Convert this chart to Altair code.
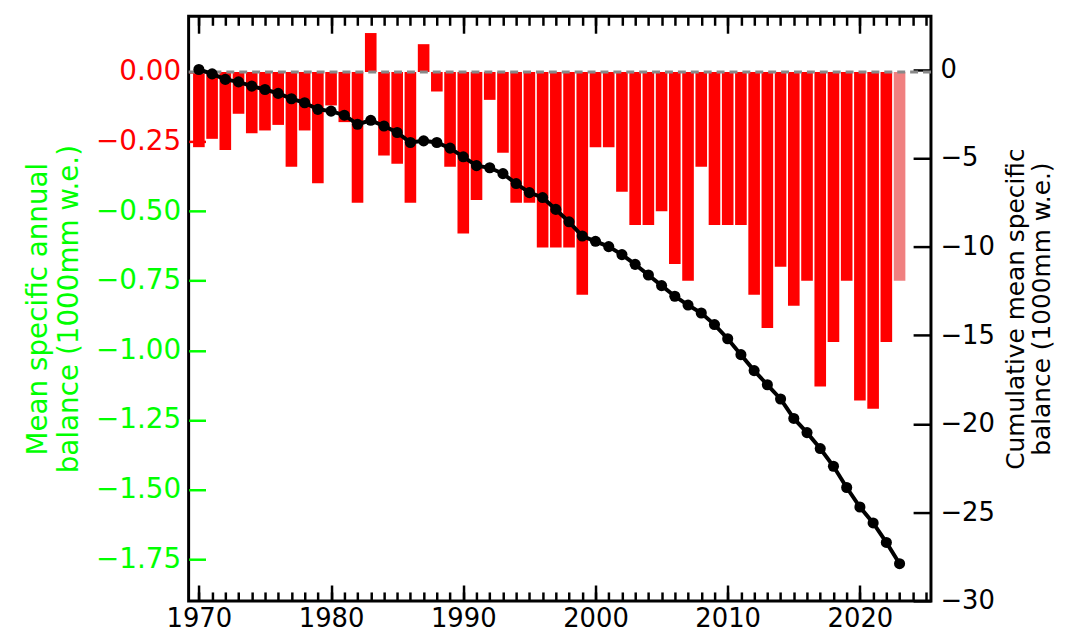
import altair as alt
import pandas as pd

# ---- data ----
years = list(range(1970, 2024))
annual_balance = [
    -0.27, -0.24, -0.28, -0.15, -0.22, -0.21, -0.19, -0.34, -0.21, -0.40,
    -0.12, -0.18, -0.47, 0.14, -0.30, -0.33, -0.47, 0.10, -0.07, -0.34,
    -0.58, -0.46, -0.10, -0.29, -0.47, -0.47, -0.63, -0.63, -0.63, -0.80,
    -0.27, -0.27, -0.43, -0.55, -0.55, -0.50, -0.69, -0.75, -0.34, -0.55,
    -0.55, -0.55, -0.80, -0.92, -0.70, -0.84, -0.75, -1.13, -0.97, -0.75,
    -1.18, -1.21, -0.97, -0.75,
]
cum_years = list(range(1970, 2024))
cumulative_balance = [
    0.00, -0.25, -0.56, -0.70, -0.94, -1.13, -1.35, -1.65, -1.88, -2.25,
    -2.35, -2.58, -3.09, -2.87, -3.19, -3.56, -4.12, -4.03, -4.12, -4.44,
    -4.93, -5.43, -5.55, -5.88, -6.44, -6.95, -7.23, -7.90, -8.60, -9.40,
    -9.70, -10.00, -10.45, -11.00, -11.60, -12.20, -12.80, -13.30, -13.75, -14.40,
    -15.20, -16.10, -17.00, -17.80, -18.60, -19.70, -20.50, -21.40, -22.40, -23.60,
    -24.70, -25.60, -26.70, -27.90,
]
left_ticks = [0.0, -0.25, -0.5, -0.75, -1.0, -1.25, -1.5, -1.75]
right_ticks = [0, -5, -10, -15, -20, -25, -30]
decade_ticks = [1970, 1980, 1990, 2000, 2010, 2020]
year_ticks = list(range(1970, 2026))
preliminary_year = 2023

left_title = ["Mean specific annual", "balance (1000mm w.e.)"]
right_title = ["Cumulative mean specific", "balance (1000mm w.e.)"]

bars_df = pd.DataFrame({"year": years, "balance": annual_balance})
cum_df = pd.DataFrame({"year": cum_years, "cum": cumulative_balance})

W, H = 748, 589
FONT = "DejaVu Sans"
RED = "#ff0000"
GREEN = "#00ff00"

xscale = alt.Scale(domain=[1969.6, 2025.0], nice=False, zero=False)
yl_scale = alt.Scale(domain=[-1.9, 0.2], nice=False, zero=False)
yr_scale = alt.Scale(domain=[-30, 3], nice=False, zero=False)


def x_axis(orient, values, size, labels):
    kw = dict(orient=orient, values=values, tickSize=size, offset=-size,
              domain=False, grid=False, tickColor="black", tickWidth=2.5,
              labels=labels, title=None)
    if labels:
        kw.update(format="d", labelFontSize=26, labelFont=FONT,
                  labelColor="black", labelPadding=5, labelFlush=False,
                  labelOverlap=False)
    return alt.Axis(**kw)


left_axis = alt.Axis(
    orient="left", values=left_ticks, format=".2f", tickSize=17, offset=-17,
    domain=False, grid=False, tickWidth=2.5,
    tickColor={"condition": {"test": "datum.value > -0.3", "value": RED}, "value": GREEN},
    labelColor={"condition": {"test": "datum.value > -0.3", "value": RED}, "value": GREEN},
    labelFontSize=28, labelFont=FONT, labelPadding=8, labelFlush=False,
    labelOverlap=False,
    title=left_title, titleColor=GREEN, titleFontSize=28, titleFont=FONT,
    titleFontWeight="normal", titlePadding=12, titleLineHeight=31,
)

right_axis = alt.Axis(
    orient="right", values=right_ticks, format="d", tickSize=18, offset=-18,
    domain=False, grid=False, tickWidth=2.5, tickColor="black",
    labelColor="black", labelFontSize=26, labelFont=FONT, labelPadding=9,
    labelFlush=False, labelOverlap=False,
    title=right_title, titleColor="black", titleFontSize=25, titleFont=FONT,
    titleFontWeight="normal", titlePadding=7, titleLineHeight=27,
    titleAngle=270,
)

bars = alt.Chart(bars_df).mark_bar(size=11.7).encode(
    x=alt.X("year:Q", scale=xscale, axis=x_axis("bottom", decade_ticks, 16, True)),
    y=alt.Y("balance:Q", scale=yl_scale, axis=left_axis),
    color=alt.condition(alt.datum.year == preliminary_year,
                        alt.value("#f08080"), alt.value(RED)),
)

zero_rule = alt.Chart(pd.DataFrame({"zero": [0.0]})).mark_rule(
    color="#888888", strokeWidth=3, strokeDash=[8, 5]
).encode(y=alt.Y("zero:Q", scale=yl_scale, axis=None))

line = alt.Chart(cum_df).mark_line(color="black", strokeWidth=4).encode(
    x=alt.X("year:Q", scale=xscale, axis=x_axis("top", decade_ticks, 17, False)),
    y=alt.Y("cum:Q", scale=yr_scale, axis=right_axis),
)

points = alt.Chart(cum_df).mark_point(filled=True, color="black", size=125, opacity=1).encode(
    x=alt.X("year:Q", scale=xscale, axis=x_axis("bottom", year_ticks, 9, False)),
    y=alt.Y("cum:Q", scale=yr_scale, axis=None),
)

top_minor = alt.Chart(pd.DataFrame({"year": year_ticks})).mark_point(opacity=0).encode(
    x=alt.X("year:Q", scale=xscale, axis=x_axis("top", year_ticks, 9, False)),
)

chart = alt.layer(bars, zero_rule, line, points, top_minor).resolve_scale(
    y="independent"
).resolve_axis(
    x="independent", y="independent"
).properties(
    width=W, height=H,
    padding={"left": 182, "top": 6, "right": 128, "bottom": 37},
    autosize=alt.AutoSizeParams(type="none"),
).configure_view(stroke="black", strokeWidth=3)

chart.save("out.html", embed_options={"renderer": "svg", "actions": False})
